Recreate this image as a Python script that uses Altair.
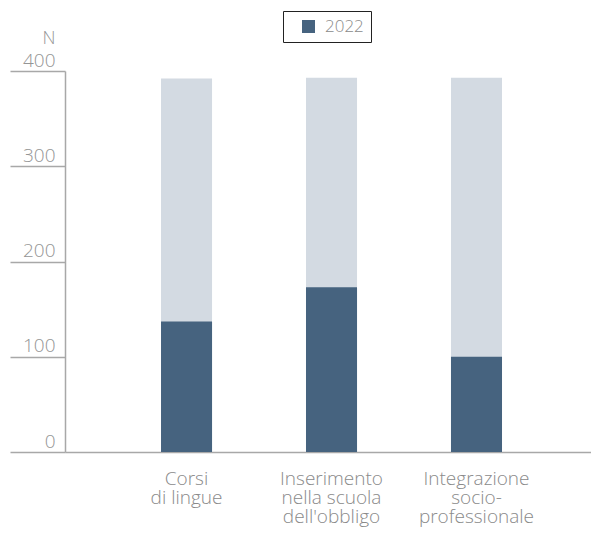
import altair as alt
import pandas as pd

categories = ["Corsi\ndi lingue", "Inserimento\nnella scuola\ndell'obbligo", "Integrazione\nsocio-\nprofessionale"]
values_2022 = [137, 173, 100]
totals = [392, 393, 393]
series_name = "2022"

df = pd.DataFrame({
    "cat": categories,
    "val": values_2022,
    "tot": totals,
    "serie": [series_name] * len(categories),
})

FONT = "Open Sans"
GRAY = "#959595"
LINE = "#a8a8a8"

xenc = alt.X(
    "cat:N",
    sort=None,
    title=None,
    scale=alt.Scale(paddingInner=0.648, paddingOuter=0.638, align=0.519),
    axis=alt.Axis(
        labelExpr="split(datum.label, '\\n')",
        labelAngle=0,
        labelAlign="center",
        labelBaseline="alphabetic",
        labelPadding=32,
        labelLineHeight=19,
        labelFont=FONT,
        labelFontSize=19,
        labelFontWeight=300,
        labelColor="#8a8a8a",
        labelOverlap=False,
        ticks=False,
        domain=True,
        domainColor=LINE,
        domainWidth=1.5,
        grid=False,
    ),
)

yscale = alt.Scale(domain=[0, 400])
yaxis = alt.Axis(
    values=[0, 100, 200, 300, 400],
    title="N",
    titleAngle=0,
    titleX=-10,
    titleY=-28,
    titleAlign="right",
    titleBaseline="alphabetic",
    titleFont=FONT,
    titleFontSize=18,
    titleFontWeight=300,
    titleColor=GRAY,
    labelFont=FONT,
    labelFontSize=19,
    labelFontWeight=300,
    labelColor=GRAY,
    labelAlign="right",
    labelBaseline="alphabetic",
    labelPadding=-45,
    labelOffset=-5,
    labelOverlap=False,
    tickSize=55,
    tickColor=LINE,
    tickWidth=1.5,
    domainColor=LINE,
    domainWidth=1.5,
    grid=False,
)

light = alt.Chart(df).mark_bar(color="#d3dae2").encode(
    x=xenc,
    y=alt.Y("tot:Q", scale=yscale, axis=yaxis),
)

dark = alt.Chart(df).mark_bar().encode(
    x=xenc,
    y=alt.Y("val:Q", scale=yscale),
    color=alt.Color(
        "serie:N",
        scale=alt.Scale(range=["#46637f"]),
        legend=alt.Legend(
            title=None,
            orient="none",
            legendX=218,
            legendY=-60,
            strokeColor="#222222",
            padding=7,
            symbolType="square",
            symbolSize=169,
            symbolStrokeWidth=0,
            symbolOffset=10,
            labelOffset=8,
            labelFont=FONT,
            labelFontSize=17,
            labelFontWeight=300,
            labelColor="#8a8a8a",
            labelExpr="datum.label + '\u00a0\u00a0\u00a0\u00a0\u00a0\u00a0'",
        ),
    ),
)

chart = (
    alt.layer(light, dark)
    .properties(
        width=526,
        height=381,
        autosize=alt.AutoSizeParams(type="none"),
        padding={"left": 57, "top": 63, "right": 0, "bottom": 75},
        background="white",
    )
    .configure_view(stroke=None)
)

chart.save("out.html", embed_options={"renderer": "svg", "actions": False})
